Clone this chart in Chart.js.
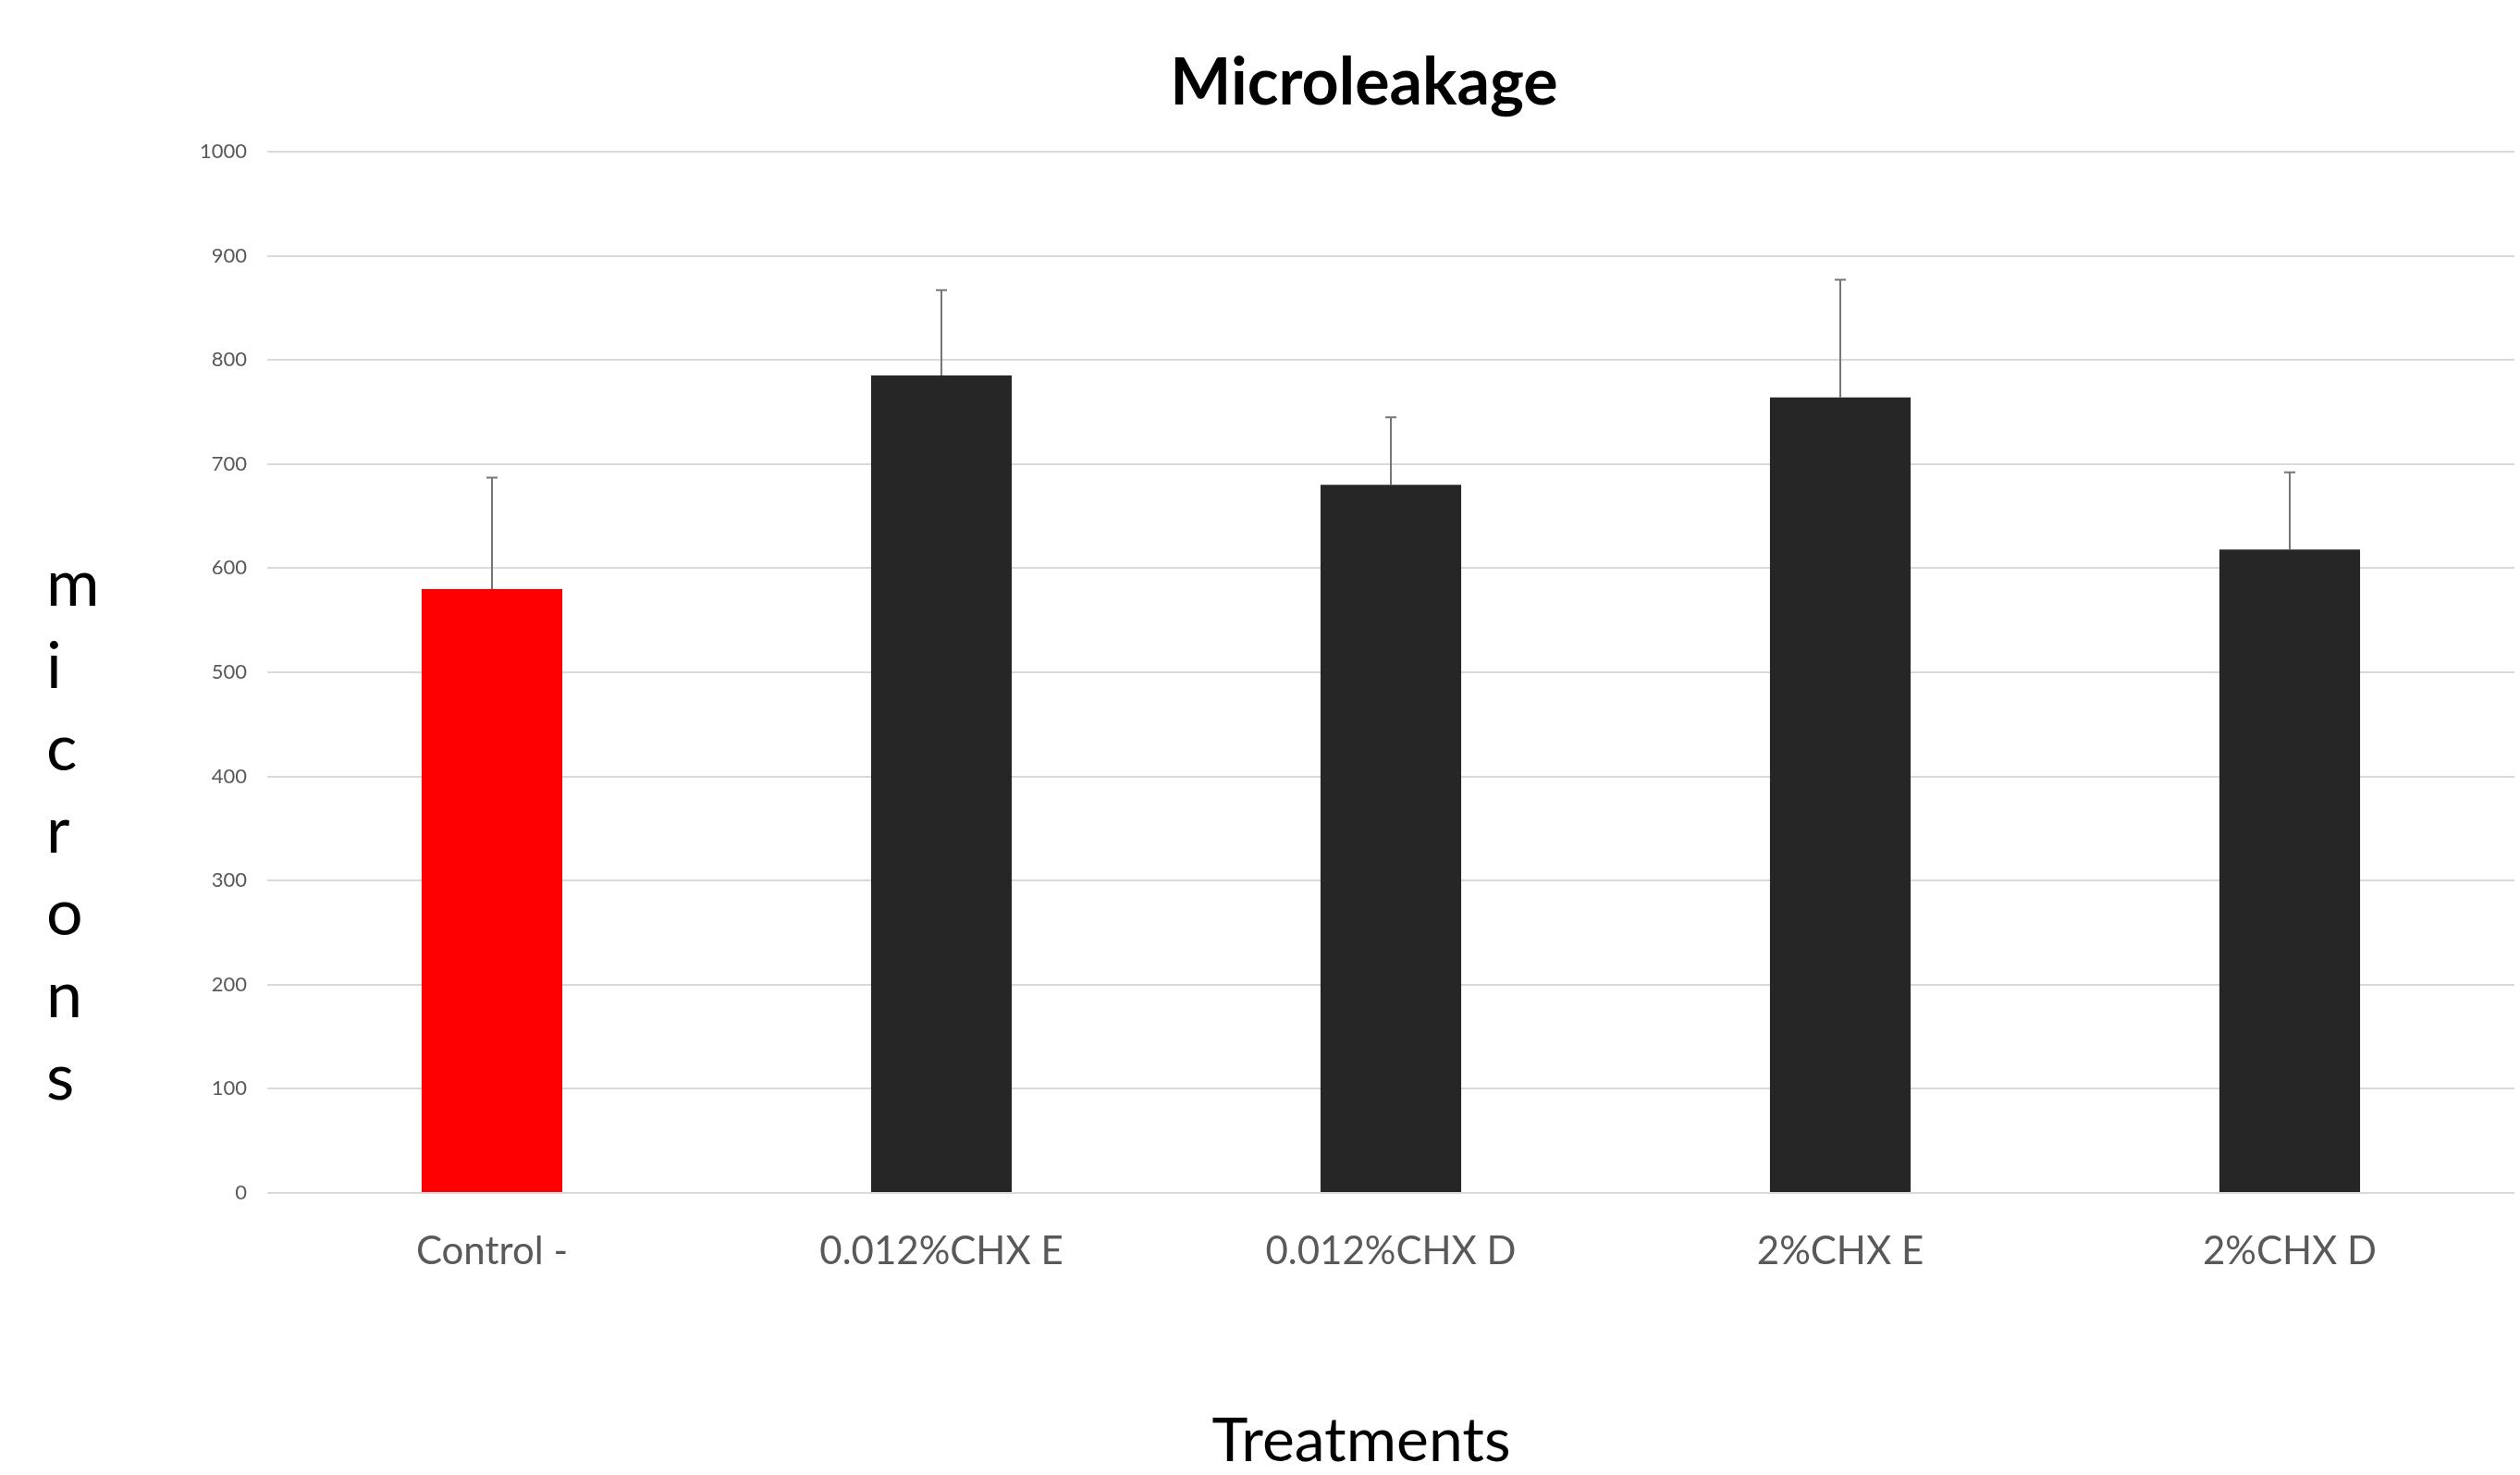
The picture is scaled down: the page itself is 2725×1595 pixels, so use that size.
<!DOCTYPE html>
<html>
<head>
<meta charset="utf-8">
<title>Microleakage</title>
<script src="https://cdn.jsdelivr.net/npm/chart.js@4.4.1/dist/chart.umd.min.js"></script>
<style>
  html, body { margin: 0; padding: 0; background: #ffffff; }
  #wrap { width: 2725px; height: 1595px; position: relative; }
</style>
</head>
<body>
<div id="wrap"><canvas id="chartMicroleakage"></canvas></div>
<script>
const categories = ['Control -', '0.012%CHX E', '0.012%CHX D', '2%CHX E', '2%CHX D'];
const means = [580, 785, 680, 764, 618];
const errors = [107, 82, 65, 113, 74];
const barColors = ['#ff0000', '#262626', '#262626', '#262626', '#262626'];
const yTicks = [0, 100, 200, 300, 400, 500, 600, 700, 800, 900, 1000];

const chartTitle = 'Microleakage';
const xTitle = 'Treatments';
const yTitle = 'microns';

// upper error bars only, like the original
const errorBars = {
  id: 'errorBars',
  afterDatasetsDraw(chart) {
    const ctx = chart.ctx;
    const x = chart.scales.x;
    const y = chart.scales.y;
    ctx.save();
    ctx.strokeStyle = '#767676';
    ctx.lineWidth = 2;
    means.forEach(function (m, i) {
      const px = x.getPixelForValue(i);
      const y0 = y.getPixelForValue(m);
      const y1 = y.getPixelForValue(m + errors[i]);
      ctx.beginPath();
      ctx.moveTo(px, y0);
      ctx.lineTo(px, y1);
      ctx.moveTo(px - 6, y1);
      ctx.lineTo(px + 6, y1);
      ctx.stroke();
    });
    ctx.restore();
  }
};

// title, x title and the stacked y title
const labelsPlugin = {
  id: 'labelsPlugin',
  afterDraw(chart) {
    const ctx = chart.ctx;
    ctx.save();
    ctx.fillStyle = '#000000';
    ctx.textBaseline = 'alphabetic';

    ctx.textAlign = 'center';
    ctx.font = 'bold 70px Lato';
    ctx.fillText(chartTitle, 1475, 113);

    ctx.font = '66px Lato';
    ctx.fillText(xTitle, 1472, 1580);

    ctx.textAlign = 'left';
    ctx.font = '70px Lato';
    yTitle.split('').forEach(function (ch, i) {
      ctx.fillText(ch, 50, 655 + i * 89);
    });
    ctx.restore();
  }
};

new Chart(document.getElementById('chartMicroleakage'), {
  type: 'bar',
  data: {
    labels: categories,
    datasets: [{
      label: 'Microleakage',
      data: means,
      backgroundColor: barColors,
      borderWidth: 0,
      barPercentage: 0.313,
      categoryPercentage: 1.0
    }]
  },
  options: {
    responsive: true,
    maintainAspectRatio: false,
    animation: false,
    layout: {
      padding: { top: 164, right: 6, left: 0, bottom: 0 }
    },
    plugins: {
      legend: { display: false },
      tooltip: { enabled: false },
      title: { display: false }
    },
    scales: {
      x: {
        grid: { display: false, drawTicks: false },
        border: { display: false },
        ticks: {
          color: '#595959',
          font: { family: 'Lato', size: 42 },
          padding: 38,
          maxRotation: 0
        },
        afterFit(scale) { scale.height = 305; }
      },
      y: {
        min: 0,
        max: 1000,
        afterBuildTicks(scale) {
          scale.ticks = yTicks.map(function (v) { return { value: v }; });
        },
        grid: { color: '#d9d9d9', lineWidth: 2, drawTicks: false },
        border: { display: false },
        ticks: {
          color: '#595959',
          font: { family: 'Lato', size: 22 },
          padding: 22,
          callback: function (v) { return String(v); }
        },
        afterFit(scale) { scale.width = 289; }
      }
    }
  },
  plugins: [errorBars, labelsPlugin]
});
</script>
</body>
</html>
